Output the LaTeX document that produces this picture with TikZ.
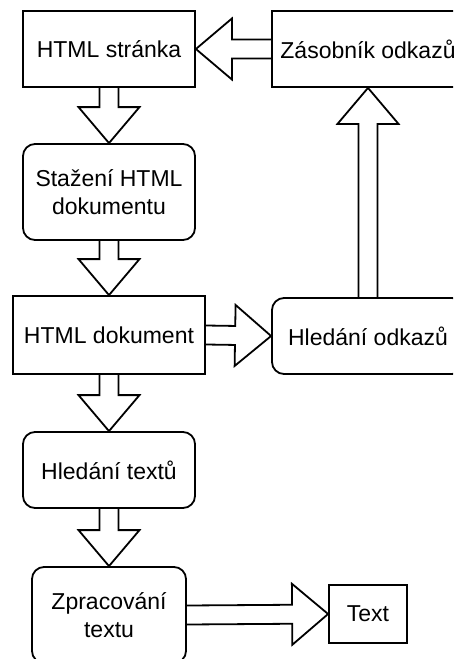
\documentclass[tikz,border=0pt]{standalone}
\usepackage{fontspec}
\setmainfont{Liberation Sans}
\usetikzlibrary{calc}

\tikzset{
  box/.style={draw, line width=1.8pt, minimum width=172pt, minimum height=76pt,
    inner sep=0pt, align=center, font=\fontsize{23}{28}\selectfont},
  rbox/.style={box, rounded corners=12pt},
  fat/.style={draw, line width=1.8pt},
}
% block arrow from #1 to #2
\newcommand{\fatarrow}[2]{%
  \path ($(#2)!36pt!(#1)$) coordinate (hb);
  \draw[fat] ($(#1)!9.5pt!90:(#2)$) -- ($(hb)!9.5pt!90:(#2)$) -- ($(hb)!30.5pt!90:(#2)$)
    -- (#2) -- ($(hb)!30.5pt!-90:(#2)$) -- ($(hb)!9.5pt!-90:(#2)$) -- ($(#1)!9.5pt!-90:(#2)$);
}

\begin{document}
\begin{tikzpicture}[x=1pt,y=-1pt]
\clip (0,0) rectangle (453,659);
\node[box] (page) at (109,49) {HTML stránka};
\node[box, minimum width=192pt] (stack) at (368,49) {Zásobník odkazů};
\node[rbox, minimum height=96pt] (fetch) at (109,192) {Stažení HTML\\dokumentu};
\node[box, minimum width=192pt, minimum height=78pt] (doc) at (109,335) {HTML dokument};
\node[rbox, minimum width=192pt] (links) at (368,336) {Hledání odkazů};
\node[rbox] (texts) at (109,470) {Hledání textů};
\node[rbox, minimum width=154pt, minimum height=96pt] (proc) at (109,615) {Zpracování\\textu};
\node[box, minimum width=78pt, minimum height=58pt] (out) at (368,614) {Text};

\fatarrow{page.south}{fetch.north}
\fatarrow{fetch.south}{doc.north}
\fatarrow{doc.south}{texts.north}
\fatarrow{texts.south}{proc.north}
\fatarrow{doc.east}{links.west}
\fatarrow{links.north}{stack.south}
\fatarrow{stack.west}{page.east}
\fatarrow{proc.east}{out.west}
\end{tikzpicture}
\end{document}
